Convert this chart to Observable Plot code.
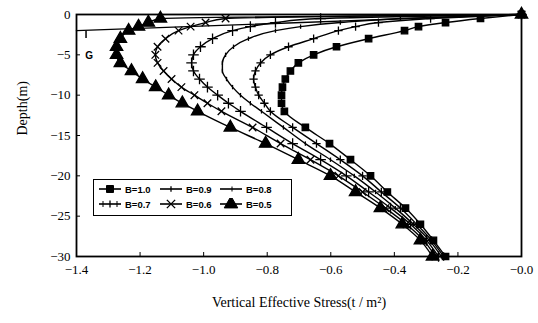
<!DOCTYPE html>
<html>
<head>
<meta charset="utf-8">
<script src="https://cdn.jsdelivr.net/npm/d3@7"></script>
<script src="https://cdn.jsdelivr.net/npm/@observablehq/plot@0.6"></script>
<style>
  html, body { margin: 0; padding: 0; background: #fff; }
  #wrap { position: relative; width: 538px; height: 323px; }
  #legend { position: absolute; left: 93px; top: 179px; width: 199px; height: 37px;
    border: 1.8px solid #000; box-sizing: border-box; font-family: "Liberation Sans", Arial, sans-serif;
    font-weight: bold; font-size: 9.5px; }
  .entry { position: absolute; display: flex; align-items: center; height: 12px; }
  .entry svg { display: block; margin-right: 3px; }
</style>
</head>
<body>
<div id="wrap"><div id="chart"></div><div id="legend"></div></div>
<script>
// Depth (m) at which each series is sampled
const depth = [0, -0.5, -1, -1.5, -2, -3, -4, -5, -6, -7, -8, -9, -10, -11, -12, -14, -16, -18, -20, -22, -24, -26, -28, -30];
// Vertical effective stress (t/m^2) for each B
const b10 = [0, -0.129, -0.239, -0.324, -0.368, -0.481, -0.582, -0.654, -0.702, -0.727, -0.743, -0.752, -0.755, -0.755, -0.746, -0.68, -0.604, -0.538, -0.475, -0.422, -0.365, -0.318, -0.277, -0.239];
const b09 = [0, -0.286, -0.45, -0.522, -0.576, -0.654, -0.733, -0.79, -0.821, -0.837, -0.843, -0.837, -0.827, -0.809, -0.79, -0.72, -0.645, -0.57, -0.5, -0.441, -0.381, -0.33, -0.283, -0.245];
const b08 = [0, -0.381, -0.57, -0.695, -0.774, -0.859, -0.906, -0.931, -0.941, -0.941, -0.928, -0.909, -0.884, -0.853, -0.818, -0.749, -0.68, -0.601, -0.526, -0.459, -0.397, -0.34, -0.29, -0.252];
const b07 = [0, -0.632, -0.774, -0.853, -0.909, -0.972, -1.01, -1.032, -1.038, -1.032, -1.013, -0.988, -0.956, -0.922, -0.884, -0.802, -0.72, -0.632, -0.551, -0.481, -0.412, -0.349, -0.299, -0.261];
const b06 = [0, -0.931, -0.994, -1.041, -1.079, -1.12, -1.145, -1.152, -1.145, -1.126, -1.101, -1.07, -1.029, -0.988, -0.944, -0.846, -0.758, -0.664, -0.576, -0.5, -0.428, -0.362, -0.308, -0.271];
const b05 = [0, -1.136, -1.174, -1.205, -1.236, -1.262, -1.274, -1.274, -1.262, -1.227, -1.192, -1.151, -1.11, -1.067, -1.019, -0.916, -0.805, -0.702, -0.601, -0.522, -0.444, -0.375, -0.318, -0.28];
const seriesNames = ["B=1.0", "B=0.9", "B=0.8", "B=0.7", "B=0.6", "B=0.5"];
// Stray "G" line in the original figure
const gLineX = [-1.4, 0];
const gLineY = [-2, 0];
const gLabel = "G";
// Ticks
const xTicks = [-1.4, -1.2, -1.0, -0.8, -0.6, -0.4, -0.2, 0];
const yTicks = [0, -5, -10, -15, -20, -25, -30];
const xTitle = "Vertical Effective Stress(t / m²)";
const yTitle = "Depth(m)";

const tickSym = { draw(ctx, size) { const r = Math.sqrt(size / Math.PI); ctx.moveTo(0, -r); ctx.lineTo(0, r); } };
const styles = {
  "B=1.0": { symbol: "square", r: 3.6, fill: "black", stroke: "black" },
  "B=0.9": { symbol: "plus", r: 2.8, fill: "none", stroke: "black" },
  "B=0.8": { symbol: tickSym, r: 2.2, fill: "none", stroke: "black" },
  "B=0.7": { symbol: "plus", r: 3.5, fill: "none", stroke: "black" },
  "B=0.6": { symbol: "times", r: 3.5, fill: "none", stroke: "black" },
  "B=0.5": { symbol: "triangle", r: 4.6, fill: "black", stroke: "black" }
};
const allVals = [b10, b09, b08, b07, b06, b05];
const data = seriesNames.map((name, i) => depth.map((d, j) => ({ name, x: allVals[i][j], y: d })));
const gData = gLineX.map((x, i) => ({ x, y: gLineY[i] }));

const marks = [
  Plot.line(gData, { x: "x", y: "y", stroke: "black", strokeWidth: 1.4 }),
  Plot.link([gData[0]], { x1: d => d.x + 0.03, x2: d => d.x + 0.03, y1: "y", y2: d => d.y - 0.9, stroke: "black", strokeWidth: 1.5 }),
  Plot.text([gLabel], { x: gLineX[0] + 0.04, y: gLineY[0] - 3.1, text: d => d, fontFamily: "Liberation Sans", fontWeight: "bold", fontSize: 10 })
];
data.forEach(ser => {
  const s = styles[ser[0].name];
  marks.push(Plot.line(ser, { x: "x", y: "y", stroke: "black", strokeWidth: 1.4, curve: "monotone-y" }));
  marks.push(Plot.dot(ser, { x: "x", y: "y", symbol: s.symbol, r: s.r, fill: s.fill, stroke: s.stroke, strokeWidth: 1.3 }));
});
marks.push(Plot.frame({ stroke: "black", strokeWidth: 1.8 }));
marks.push(Plot.axisX(xTicks, { tickSize: -4, tickPadding: 12, tickFormat: d => "\u2212" + Math.abs(d).toFixed(1), label: null, fontSize: 13 }));
marks.push(Plot.axisY(yTicks, { tickSize: -4, tickPadding: 10, tickFormat: d => d === 0 ? "0" : "\u2212" + Math.abs(d), label: null, fontSize: 13 }));
marks.push(Plot.text([xTitle], { frameAnchor: "bottom", dy: 50, text: d => d, fontSize: 14 }));
marks.push(Plot.text([yTitle], { frameAnchor: "left", dx: -54, rotate: -90, text: d => d, fontSize: 14 }));

const chart = Plot.plot({
  width: 538, height: 323,
  marginLeft: 76, marginRight: 17, marginTop: 14, marginBottom: 67,
  style: { fontFamily: "'Liberation Serif', 'DejaVu Serif', serif", background: "white", color: "black" },
  x: { domain: [-1.4, 0] },
  y: { domain: [-30, 0] },
  marks
});
document.getElementById("chart").appendChild(chart);

// Legend
const legend = document.getElementById("legend");
const pos = [[4, 3], [65, 3], [125, 3], [4, 18], [65, 18], [125, 18]];
seriesNames.forEach((name, i) => {
  const s = styles[name];
  const e = document.createElement("div");
  e.className = "entry";
  e.style.left = pos[i][0] + "px"; e.style.top = pos[i][1] + "px";
  const svg = d3.create("svg").attr("width", 24).attr("height", 12);
  svg.append("line").attr("x1", 1).attr("x2", 23).attr("y1", 6).attr("y2", 6).attr("stroke", "black").attr("stroke-width", 1.6);
  const symMap = { square: d3.symbolSquare, plus: d3.symbolCross, times: d3.symbolTimes, triangle: d3.symbolTriangle };
  const sym = typeof s.symbol === "string" ? symMap[s.symbol] : s.symbol;
  const sz = s.r * s.r * Math.PI * 1.2;
  if (s.symbol === "plus") {
    svg.append("path").attr("d", `M12,${6 - s.r}V${6 + s.r}`).attr("stroke", "black").attr("stroke-width", 1.3);
    if (name === "B=0.7") svg.append("path").attr("d", `M5,3V9M19,3V9`).attr("stroke", "black").attr("stroke-width", 1);
  } else if (s.symbol === "times") {
    svg.append("path").attr("d", d3.symbol(d3.symbolTimes, sz)()).attr("transform", "translate(12,6)").attr("stroke", "black").attr("stroke-width", 1.4).attr("fill", "none");
  } else if (typeof s.symbol !== "string") {
    svg.append("path").attr("d", "M13,3.5V8.5").attr("stroke", "black").attr("stroke-width", 1);
  } else {
    svg.append("path").attr("d", d3.symbol(sym, sz)()).attr("transform", "translate(12,6)").attr("fill", "black").attr("stroke", "black");
  }
  e.appendChild(svg.node());
  const t = document.createElement("span");
  t.textContent = name;
  e.appendChild(t);
  legend.appendChild(e);
});
</script>
</body>
</html>
